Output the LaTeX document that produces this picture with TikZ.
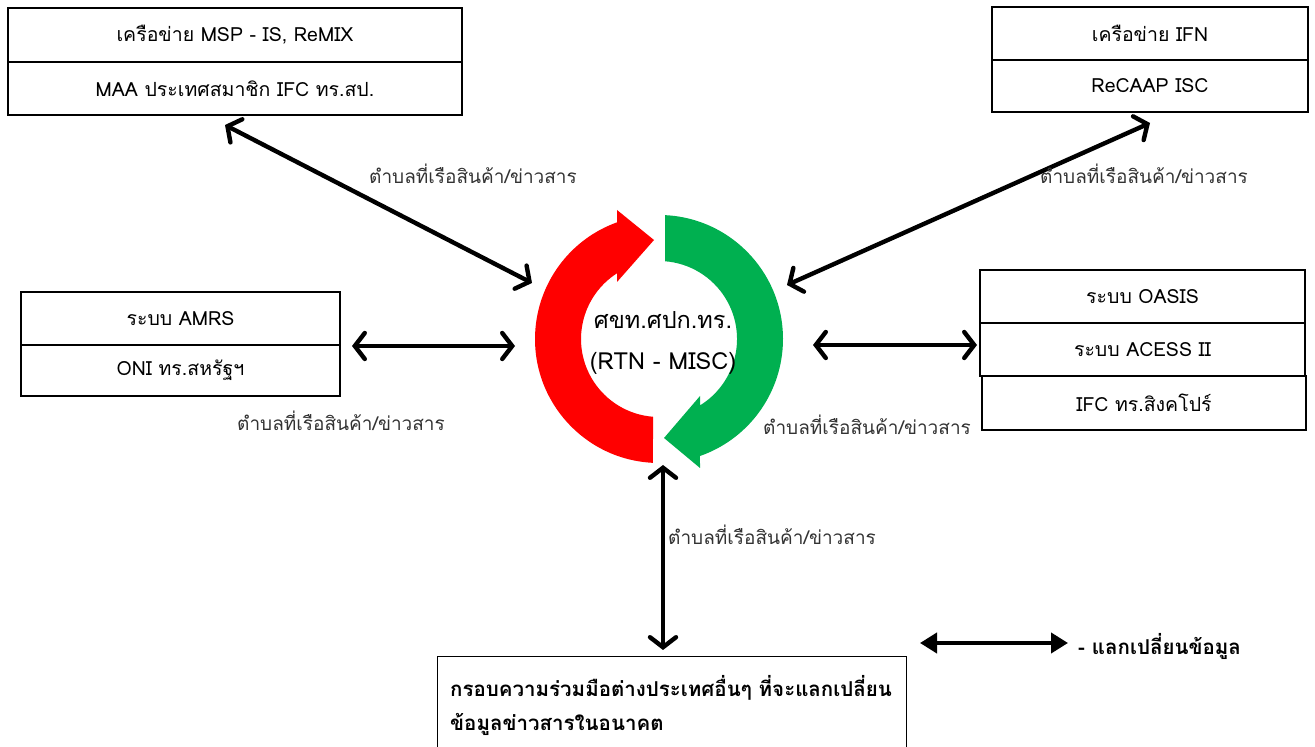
\documentclass[tikz,border=0pt]{standalone}
\usepackage{fontspec}
\setmainfont{Loma}[Script=Thai]
\usetikzlibrary{arrows.meta}
\definecolor{ringred}{HTML}{FF0000}
\definecolor{ringgreen}{HTML}{00B050}
\definecolor{labgray}{HTML}{333333}
\tikzset{
  cell/.style={draw=black, line width=1.4pt, inner sep=0pt, font=\fontsize{19.5}{24}\selectfont},
  lab/.style={text=labgray, font=\fontsize{19}{22}\selectfont, inner sep=0pt},
  link/.style={line width=4.4pt, line cap=round, {Straight Barb[length=10pt,width=26pt,line cap=round]}-{Straight Barb[length=10pt,width=26pt,line cap=round]}},
  legendlink/.style={line width=4pt, {Triangle[length=17pt,width=20pt]}-{Triangle[length=17pt,width=20pt]}}
}
\begin{document}
\begin{tikzpicture}[x=1pt,y=1pt]
\useasboundingbox (0,0) rectangle (1315,747);
% top-left box
\node[cell, minimum width=454pt, minimum height=54pt] (tla) at (235,712) {เครือข่าย MSP - IS, ReMIX};
\node[cell, minimum width=454pt, minimum height=53pt] (tlb) at (235,658.5) {MAA ประเทศสมาชิก IFC ทร.สป.};
% top-right box
\node[cell, minimum width=316pt, minimum height=53pt] (tra) at (1150,713.5) {เครือข่าย IFN};
\node[cell, minimum width=316pt, minimum height=52pt] (trb) at (1150,661) {ReCAAP ISC};
% left box
\node[cell, minimum width=319pt, minimum height=53pt] (la) at (180.5,428.5) {ระบบ AMRS};
\node[cell, minimum width=319pt, minimum height=51pt] (lb) at (180.5,376.5) {ONI ทร.สหรัฐฯ};
% right boxes
\node[cell, minimum width=325pt, minimum height=53pt] (ra) at (1142.5,450.5) {ระบบ OASIS};
\node[cell, minimum width=325pt, minimum height=53pt] (rb) at (1142.5,397.5) {ระบบ ACESS II};
\node[cell, minimum width=324pt, minimum height=54pt] (rc) at (1144,344) {IFC ทร.สิงคโปร์};
% bottom box
\node[cell, minimum width=469pt, minimum height=104pt, anchor=north west] (fut) at (437,91) {};
\node[anchor=west, align=left, inner sep=0pt, font=\bfseries\fontsize{20.5}{34}\selectfont] (futtxt) at (450,42) {กรอบความร่วมมือต่างประเทศอื่นๆ ที่จะแลกเปลี่ยน\\ข้อมูลข่าวสารในอนาคต};
% ring
\fill[ringred] ([shift={(267.2:124pt)}]659,408) arc[start angle=267.2, end angle=109.8, radius=124pt]
  -- (617,537) -- (654,507) -- (617,465) -- (617,473.7)
  arc[start angle=122.6, end angle=265.6, radius=78pt] -- cycle;
\fill[ringgreen] ([shift={(87.2:124pt)}]659,408) arc[start angle=87.2, end angle=-70.7, radius=124pt]
  -- (700,279) -- (664,309) -- (700,351) -- (700,341.6)
  arc[start angle=-58.3, end angle=85.6, radius=78pt] -- cycle;
\node[align=center, inner sep=0pt, font=\fontsize{23.5}{41}\selectfont] (hub) at (663,404) {ศขท.ศปก.ทร.\\(RTN - MISC)};
% connector end points
\coordinate (tlend) at (225,622);
\coordinate (tlhub) at (532,464);
\coordinate (trend) at (1150,624);
\coordinate (trhub) at (787,462);
\coordinate (lend) at (352,401);
\coordinate (lhub) at (515,401);
\coordinate (rhub) at (813,402);
\coordinate (rend) at (977,402);
\coordinate (bhub) at (663,282);
\coordinate (bend) at (663,97);
\coordinate (lga) at (920,104);
\coordinate (lgb) at (1068,104);
\draw[link] (tlend) -- (tlhub);
\draw[link] (trend) -- (trhub);
\draw[link] (lend) -- (lhub);
\draw[link] (rhub) -- (rend);
\draw[link] (bhub) -- (bend);
\draw[legendlink] (lga) -- (lgb);
% labels
\node[lab] (l1) at (473,573) {ตำบลที่เรือสินค้า/ข่าวสาร};
\node[lab] (l2) at (1144,573) {ตำบลที่เรือสินค้า/ข่าวสาร};
\node[lab] (l3) at (341,326) {ตำบลที่เรือสินค้า/ข่าวสาร};
\node[lab] (l4) at (867,322) {ตำบลที่เรือสินค้า/ข่าวสาร};
\node[lab] (l5) at (772,212) {ตำบลที่เรือสินค้า/ข่าวสาร};
\node[anchor=west, inner sep=0pt, font=\bfseries\fontsize{20.5}{22}\selectfont] (lgtxt) at (1078,101) {- แลกเปลี่ยนข้อมูล};
\end{tikzpicture}
\end{document}
